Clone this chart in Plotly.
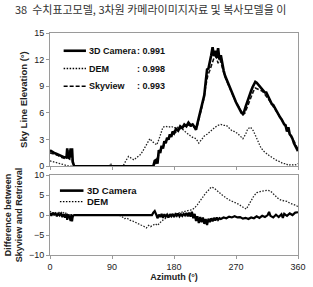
import plotly.graph_objects as go

# ---------------- data ----------------
cam_x = [0,3,6,9,12,15,18,21,24,25,26,28,30,31,32,33,35,150,152,154,156,157,158,160,162,164,166,168,170,172,174,176,178,180,183,186,189,192,195,198,201,204,207,210,212,214,216,218,220,222,224,226,228,230,232,234,236,238,240,242,244,246,248,250,252,254,256,258,260,262,264,266,268,270,272,274,276,278,280,282,284,286,288,290,292,294,296,298,300,302,304,306,308,310,312,314,316,318,320,322,324,326,328,330,332,334,336,338,340,342,344,346,348,350,352,354,356,358,360]
cam_y = [1.8,1.6,1.5,1.4,1.3,1.2,1.1,1.0,1.0,2.0,1.0,0.9,2.0,1.0,2.0,0.5,0,0,0.6,0.7,0.3,1.0,1.8,1.5,2.3,2.0,2.8,2.6,3.2,3.0,3.6,3.3,3.9,3.7,4.2,4.0,4.5,4.3,4.7,4.5,4.9,4.6,4.7,4.4,4.1,4.8,5.5,6.0,6.6,7.3,8.0,9.5,10.9,11.0,12.0,12.5,13.4,12.4,13.0,12.2,13.3,12.0,12.5,11.4,10.8,10.2,9.8,9.5,9.0,8.6,8.3,8.0,7.5,7.2,6.9,6.6,6.3,6.0,5.9,6.2,6.7,7.2,7.6,8.1,8.5,8.9,9.2,9.5,9.4,9.2,9.0,8.9,8.6,8.5,8.3,8.3,8.0,7.6,7.3,7.0,6.9,6.6,6.4,6.1,5.8,5.5,5.3,5.0,4.7,4.6,3.9,4.4,3.6,3.4,3.1,2.6,2.3,2.0,1.7]

sky_x = [0,4,8,12,16,20,24,26,27,31,33,35,152,154,156,158,160,163,166,169,172,175,178,181,184,187,190,193,196,199,202,205,208,211,214,217,220,223,226,229,232,235,238,241,244,247,250,253,256,259,262,265,268,271,274,277,280,283,286,289,292,295,298,301,304,307,310,313,316,319,322,325,328,331,334,337,340,343,346,349,352,355,358,360]
sky_y = [1.5,1.4,1.3,1.2,1.0,0.9,0.8,1.8,0.8,1.8,0.3,0,0,0.5,0.9,1.4,1.8,2.0,2.5,2.9,3.2,3.4,3.6,3.8,3.9,4.1,4.3,4.4,4.6,4.7,4.6,4.5,4.5,4.2,4.6,5.5,6.3,7.5,9.0,10.2,10.8,11.5,12.2,12.4,11.6,12.0,11.0,10.3,9.7,9.2,8.6,8.1,7.6,7.0,6.7,6.2,5.8,6.0,6.6,7.3,7.9,8.4,8.8,8.7,8.6,8.5,8.3,8.0,7.7,7.3,7.0,6.6,6.3,5.9,5.5,5.2,4.8,4.3,3.9,3.6,3.2,2.7,2.2,1.9]

dem_x = [0,5,10,15,20,25,28,86,88,90,106,110,114,118,122,126,130,134,138,142,145,148,151,155,158,161,164,168,172,176,180,184,188,192,196,200,204,208,212,216,220,224,228,232,236,240,244,248,252,256,260,264,268,272,276,280,284,287,291,295,298,302,306,310,314,318,322,326,330,334,338,342,346,350,354,358,360]
dem_y = [0.6,0.5,0.4,0.3,0.2,0.1,0,0,0.3,0,0,0.6,1.1,0.9,0.7,1.0,1.2,1.6,2.2,2.7,3.1,2.8,2.6,2.4,3.0,3.8,4.4,4.5,4.4,4.5,4.3,4.4,4.3,4.2,3.9,3.6,3.4,3.2,3.1,2.6,3.0,3.4,3.6,3.9,4.2,4.4,4.6,4.7,4.6,4.6,4.3,4.0,3.9,3.7,3.4,3.1,3.6,4.2,4.4,4.0,3.5,2.8,2.1,1.7,1.4,1.2,1.0,0.8,0.6,0.5,0.3,0.3,0.1,0.2,0.1,0.2,0.3]

dcam_x = [0,2,4,6,8,10,12,14,16,18,20,22,24,25,26,28,30,31,32,33,35,148,150,152,154,156,158,160,162,164,166,168,170,172,174,176,178,180,182,184,186,188,190,192,194,196,198,200,202,204,206,208,210,212,214,216,218,220,222,224,226,228,230,232,234,236,238,240,242,244,246,248,252,256,260,264,268,272,276,280,284,288,292,296,300,304,308,312,316,318,320,324,328,332,336,338,340,344,348,352,356,360]
dcam_y = [0.5,-0.2,0.6,0.1,0.4,-0.3,0.3,-0.1,0.5,-0.5,0.2,-0.6,0.3,-1.2,0.1,-0.4,-1.5,0.2,-1.6,-0.3,0,0,0.6,1.0,0.2,-0.8,0.1,-0.5,0.3,-0.7,0.2,-0.4,0.1,-0.6,0.2,-0.3,0.3,-0.5,0.2,-0.2,0.4,-0.3,0.2,-0.2,0.3,-0.1,0.5,-0.3,0.6,-0.4,0.8,-0.8,0.3,-1.5,-0.3,-2.0,-0.5,-1.8,-0.6,-2.2,-1.0,-2.5,-0.9,-1.8,-0.8,-1.6,-0.7,-1.4,-0.6,-1.2,-0.8,-1.0,-0.6,-0.8,-0.4,-0.6,-0.3,-0.6,-0.5,-0.9,-0.7,-1.0,-0.6,-0.8,-0.3,-0.7,-0.2,-0.5,0.0,0.8,-0.2,-0.6,0.1,-0.5,0.2,-0.7,0.3,-0.2,0.4,0.0,0.6,0.7]

ddem_x = [0,3,6,9,12,15,18,21,24,27,30,33,35,100,104,108,112,116,120,124,128,132,136,140,143,146,150,153,156,159,162,166,170,174,178,182,186,190,194,198,202,206,210,214,218,222,226,230,234,238,242,246,250,254,258,262,266,270,274,278,282,285,288,292,296,300,304,308,312,316,320,324,328,332,336,340,344,348,352,356,360]
ddem_y = [1.0,0.3,0.6,0.2,0.8,0.4,0.9,0.3,0.6,-0.2,0.3,-0.5,0,0,-0.3,-0.9,-0.8,-1.3,-1.5,-1.9,-2.2,-2.5,-2.8,-3.2,-2.6,-2.9,-2.5,-2.2,-2.6,-1.9,-1.5,-1.0,-0.6,-0.3,0.0,0.3,0.5,0.7,0.8,1.0,1.2,1.3,1.8,2.6,3.6,4.6,5.5,6.2,7.0,6.8,6.3,5.6,5.0,4.4,4.0,3.6,3.3,3.1,2.7,2.2,1.8,1.5,2.4,3.6,4.8,5.6,5.9,6.0,6.1,6.2,6.0,5.4,4.6,4.0,3.7,3.5,3.4,3.0,2.8,2.5,2.1]

x_ticks = [0, 90, 180, 270, 360]
top_ticks = [0, 3, 6, 9, 12, 15]
bot_ticks = [-10, -5, 0, 5, 10]

legend_top = [("3D Camera", "0.991"), ("DEM", "0.998"), ("Skyview", "0.993")]
legend_bot = ["3D Camera", "DEM"]

caption = "38  수치표고모델, 3차원 카메라이미지자료 및 복사모델을 이"

# ---------------- figure ----------------
FONT = "Liberation Sans, Arial, sans-serif"
DOT = "1.5px,1.5px"
DASH = "4px,2px"
fig = go.Figure()

fig.add_trace(go.Scatter(x=dem_x, y=dem_y, mode="lines", line=dict(color="#222", width=1.3, dash=DOT),
                         xaxis="x", yaxis="y"))
fig.add_trace(go.Scatter(x=sky_x, y=sky_y, mode="lines", line=dict(color="#111", width=1.6, dash=DASH),
                         xaxis="x", yaxis="y"))
fig.add_trace(go.Scatter(x=cam_x, y=cam_y, mode="lines", line=dict(color="#000", width=2.6),
                         xaxis="x", yaxis="y"))

fig.add_trace(go.Scatter(x=ddem_x, y=ddem_y, mode="lines", line=dict(color="#222", width=1.3, dash=DOT),
                         xaxis="x2", yaxis="y2"))
fig.add_trace(go.Scatter(x=dcam_x, y=dcam_y, mode="lines", line=dict(color="#000", width=2.2),
                         xaxis="x2", yaxis="y2"))

tf = dict(family=FONT, size=9, color="#222")
axis_common = dict(showgrid=False, zeroline=False, showline=True, linecolor="#9a9a9a", linewidth=1,
                   mirror=True, ticks="outside", ticklen=3, tickcolor="#9a9a9a", tickfont=tf)

fig.update_layout(
    width=313, height=287,
    margin=dict(l=40, r=7, t=33, b=29),
    paper_bgcolor="white", plot_bgcolor="white",
    showlegend=False,
    xaxis=dict(domain=[0, 1], range=[0, 360], tickvals=x_ticks, showticklabels=False, anchor="y", **axis_common),
    yaxis=dict(domain=[0.4, 1], range=[0, 15], tickvals=top_ticks, anchor="x",
               tickprefix="<b>", ticksuffix="</b>", **axis_common),
    xaxis2=dict(domain=[0, 1], range=[0, 360], tickvals=x_ticks, anchor="y2",
                tickprefix="<b>", ticksuffix="</b>", **axis_common),
    yaxis2=dict(domain=[0, 0.36], range=[-10, 10], tickvals=bot_ticks, anchor="x2",
                tickprefix="<b>", ticksuffix="</b>", **axis_common),
)

fig.update_layout(xaxis2_title=dict(text="<b>Azimuth (°)</b>", font=dict(family=FONT, size=9, color="#222"), standoff=2),
                  yaxis_title=dict(text="<b>Sky Line Elevation (°)</b>", font=dict(family=FONT, size=9.5, color="#222"), standoff=4),
                  yaxis2_title=dict(text="<b>Difference between<br>Skyview and Retrieval</b>", font=dict(family=FONT, size=9, color="#222"), standoff=4))

annotations = []
shapes = []
# top legend
top_rows_y = [0.92, 0.84, 0.76]
styles = [dict(width=2.6, dash="solid"), dict(width=1.3, dash=DOT), dict(width=1.6, dash=DASH)]
for (name, val), yy, st in zip(legend_top, top_rows_y, styles):
    shapes.append(dict(type="line", xref="paper", yref="paper", x0=0.055, x1=0.145, y0=yy, y1=yy,
                       line=dict(color="#000", width=st["width"], dash=st["dash"])))
    annotations.append(dict(xref="paper", yref="paper", x=0.148, y=yy, xanchor="left", yanchor="middle",
                            text="<b>" + name + "</b>", showarrow=False,
                            font=dict(family=FONT, size=9, color="#111")))
    annotations.append(dict(xref="paper", yref="paper", x=0.343, y=yy, xanchor="left", yanchor="middle",
                            text="<b>: " + val + "</b>", showarrow=False,
                            font=dict(family=FONT, size=9, color="#111")))
# bottom legend
bot_rows_y = [0.29, 0.24]
for name, yy, st in zip(legend_bot, bot_rows_y, styles[:2]):
    shapes.append(dict(type="line", xref="paper", yref="paper", x0=0.04, x1=0.135, y0=yy, y1=yy,
                       line=dict(color="#000", width=st["width"], dash=st["dash"])))
    annotations.append(dict(xref="paper", yref="paper", x=0.14, y=yy, xanchor="left", yanchor="middle",
                            text="<b>" + name + "</b>", showarrow=False,
                            font=dict(family=FONT, size=9.5, color="#111")))
annotations.append(dict(xref="paper", yref="paper", x=-0.15, y=1.107, xanchor="left", yanchor="middle",
                        text=caption, showarrow=False,
                        font=dict(family="Noto Sans CJK KR", size=11, color="#333")))
fig.update_layout(annotations=annotations, shapes=shapes)

fig.write_html("out.html")
